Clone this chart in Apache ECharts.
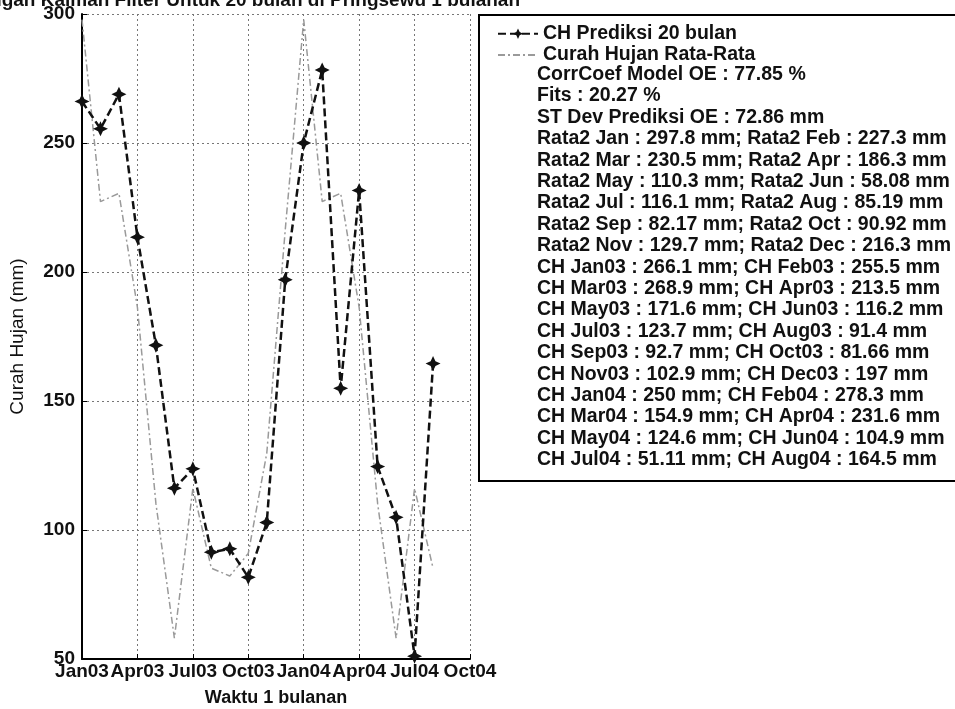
<!DOCTYPE html>
<html lang="id" style="height: 100%">
<head>
  <meta charset="UTF-8" />
  <title>CH Prediksi 20 bulan</title>
  <script src="https://cdn.jsdelivr.net/npm/echarts@6/dist/echarts.min.js"></script>
</head>
<body style="height: 100%; margin: 0; background: #fff">
  <div id="main" style="width: 955px; height: 709px"></div>
  <script type="text/javascript">
    // data
    var bulanCH = ["Jan03", "Feb03", "Mar03", "Apr03", "May03", "Jun03", "Jul03", "Aug03", "Sep03", "Oct03",
      "Nov03", "Dec03", "Jan04", "Feb04", "Mar04", "Apr04", "May04", "Jun04", "Jul04", "Aug04"];
    var chPrediksi = [266.1, 255.5, 268.9, 213.5, 171.6, 116.2, 123.7, 91.4, 92.7, 81.66,
      102.9, 197, 250, 278.3, 154.9, 231.6, 124.6, 104.9, 51.11, 164.5];
    var namaBulan = ["Jan", "Feb", "Mar", "Apr", "May", "Jun", "Jul", "Aug", "Sep", "Oct", "Nov", "Dec"];
    var rata2 = [297.8, 227.3, 230.5, 186.3, 110.3, 58.08, 116.1, 85.19, 82.17, 90.92, 129.7, 216.3];
    var tickLabels = ["Jan03", "Apr03", "Jul03", "Oct03", "Jan04", "Apr04", "Jul04", "Oct04"];
    var statistik = ["CorrCoef Model OE : 77.85 %", "Fits : 20.27 %", "ST Dev Prediksi OE : 72.86 mm"];

    var font = "'Liberation Sans', Arial, sans-serif";

    // pasangan [indeks bulan, nilai]
    var dataPrediksi = chPrediksi.map(function (v, i) { return [i, v]; });
    var dataRata = bulanCH.map(function (b, i) { return [i, rata2[i % 12]]; });

    // baris-baris teks keterangan
    var baris = statistik.slice();
    for (var i = 0; i < 12; i += 2) {
      baris.push("Rata2 " + namaBulan[i] + " : " + rata2[i] + " mm; Rata2 " + namaBulan[i + 1] + " : " + rata2[i + 1] + " mm");
    }
    for (var j = 0; j < chPrediksi.length; j += 2) {
      baris.push("CH " + bulanCH[j] + " : " + chPrediksi[j] + " mm; CH " + bulanCH[j + 1] + " : " + chPrediksi[j + 1] + " mm");
    }

    var star = 'path://M0,-10 L3.2,-3.2 L10,0 L3.2,3.2 L0,10 L-3.2,3.2 L-10,0 L-3.2,-3.2 Z';

    var myChart = echarts.init(document.getElementById("main"));
    var option = {
      backgroundColor: '#fff',
      animation: false,
      grid: { left: 82, right: 485, top: 14, bottom: 50, outerBoundsMode: 'none' },
      xAxis: {
        type: 'value',
        min: 0, max: 21, interval: 3,
        name: 'Waktu 1 bulanan',
        nameLocation: 'middle',
        nameGap: 30,
        nameTextStyle: { fontFamily: font, fontSize: 18, fontWeight: 'bold', color: '#111' },
        axisLine: { lineStyle: { color: '#000', width: 2 } },
        axisTick: { inside: true, length: 5, lineStyle: { color: '#000' } },
        axisLabel: {
          fontFamily: font, fontSize: 19, fontWeight: 'bold', color: '#111', margin: 3,
          formatter: function (v) { return tickLabels[v / 3]; }
        },
        splitLine: { show: true, lineStyle: { color: '#777', type: [2, 3], width: 1 } }
      },
      yAxis: {
        type: 'value',
        min: 50, max: 300, interval: 50,
        name: 'Curah Hujan (mm)',
        nameLocation: 'middle',
        nameGap: 55,
        nameTextStyle: { fontFamily: font, fontSize: 19, color: '#111' },
        axisLine: { show: true, lineStyle: { color: '#000', width: 2 } },
        axisTick: { show: true, inside: true, length: 5, lineStyle: { color: '#000' } },
        axisLabel: { fontFamily: font, fontSize: 19, fontWeight: 'bold', color: '#111', margin: 7 },
        splitLine: { show: true, lineStyle: { color: '#777', type: [2, 3], width: 1 } }
      },
      legend: {
        orient: 'vertical',
        left: 492, top: 18,
        itemWidth: 40, itemHeight: 13, itemGap: 0,
        textStyle: { fontFamily: font, fontSize: 19.5, fontWeight: 'bold', color: '#111', lineHeight: 21.4 },
        data: [
          { name: 'CH Prediksi 20 bulan' },
          { name: 'Curah Hujan Rata-Rata', itemStyle: { opacity: 0 } }
        ]
      },
      graphic: [
        {
          type: 'rect', z: 0,
          shape: { x: 479, y: 15, width: 480, height: 466 },
          style: { fill: '#fff', stroke: '#000', lineWidth: 2 }
        },
        {
          type: 'text', z: 5,
          x: 537, y: 64,
          style: {
            text: baris.join('\n'),
            font: 'bold 19.5px ' + font,
            lineHeight: 21.4,
            fill: '#111'
          }
        },
        {
          type: 'text', z: 5,
          x: 520, y: -9,
          style: {
            text: 'Perbandingan CH Dengan Kalman Filter Untuk 20 bulan di Pringsewu 1 bulanan',
            font: 'bold 19px ' + font,
            align: 'right', verticalAlign: 'top',
            fill: '#111'
          }
        }
      ],
      series: [
        {
          name: 'Curah Hujan Rata-Rata',
          type: 'line',
          data: dataRata,
          showSymbol: false,
          symbol: 'none',
          lineStyle: { color: '#9a9a9a', width: 1.5, type: [7, 3, 2, 3] },
          itemStyle: { color: '#9a9a9a' },
          z: 2
        },
        {
          name: 'CH Prediksi 20 bulan',
          type: 'line',
          data: dataPrediksi,
          symbol: star,
          symbolSize: 15,
          lineStyle: { color: '#111', width: 2.5, type: [8, 4] },
          itemStyle: { color: '#111' },
          z: 3
        }
      ]
    };
    myChart.setOption(option);
  </script>
</body>
</html>
